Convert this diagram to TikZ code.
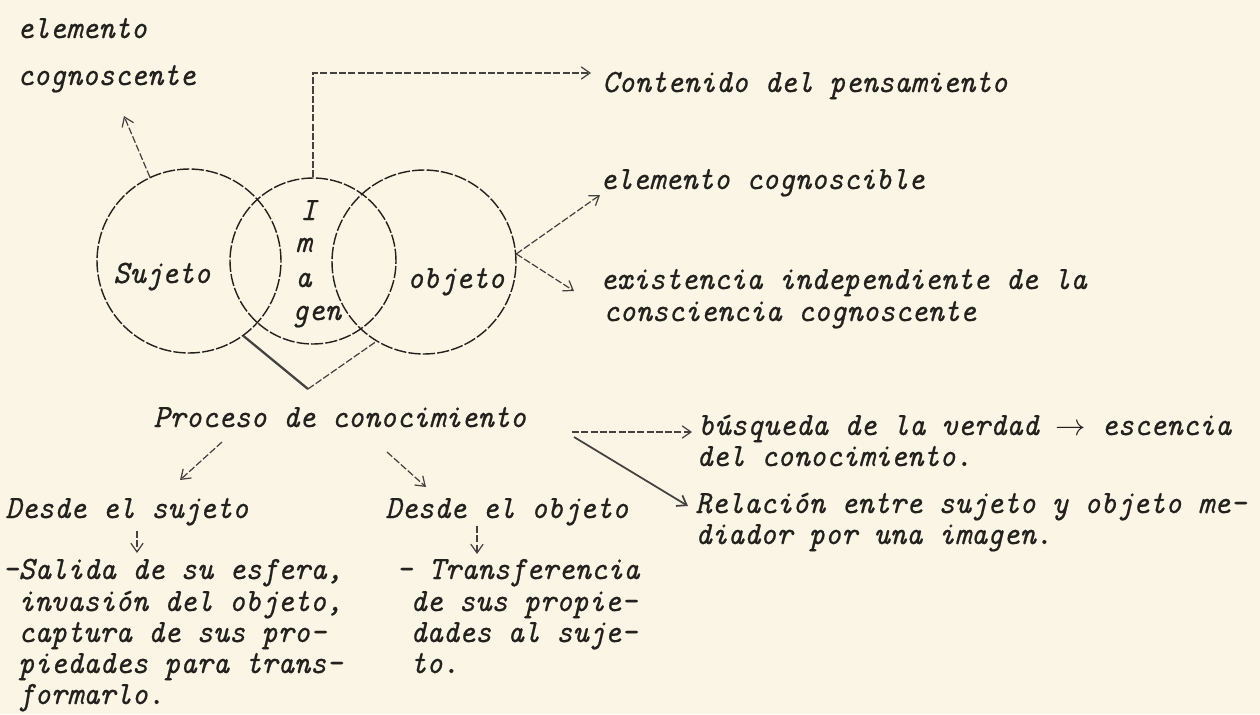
\documentclass[tikz,border=0pt]{standalone}
\usepackage{fontspec}
\newfontfamily\twfont{lmmono10-italic.otf}[FakeStretch=0.95, FakeBold=0.6]
\usetikzlibrary{arrows.meta}
\definecolor{paper}{RGB}{250,245,228}
\definecolor{ink}{RGB}{35,33,30}
\tikzset{
  txt/.style={font=\fontsize{18.5}{18.5}\selectfont\twfont, text=ink, inner sep=0pt, anchor=base west},
  ring/.style={circle, draw=ink, line width=0.8pt, dash pattern=on 7pt off 1.2pt, inner sep=0pt},
  conn/.style={draw=ink!85, line width=0.7pt, dash pattern=on 4pt off 1.3pt},
  arr/.style={conn, -{Straight Barb[length=5pt,width=7pt]}},
  solidarr/.style={draw=ink!85, line width=1pt, -{Straight Barb[length=5pt,width=7pt]}}
}
\begin{document}
\begin{tikzpicture}[x=0.02cm,y=-0.02cm]
\fill[paper] (0,0) rectangle (1260,714);
\useasboundingbox (0,0) rectangle (1260,714);

% circles
\node[ring, minimum size=3.68cm] (S) at (189,261) {};
\node[ring, minimum size=3.32cm] (Im) at (313,261) {};
\node[ring, minimum size=3.68cm] (O) at (424,262) {};

% texts
\node[txt] (e1) at (17,38) {elemento};
\node[txt] (e2) at (17,85) {cognoscente};
\node[txt] (cont) at (602,92) {Contenido del pensamiento};
\node[txt] (ecb) at (600,189) {elemento cognoscible};
\node[txt] (ex1) at (600,289) {existencia independiente de la};
\node[txt] (ex2) at (603,321) {consciencia cognoscente};
\node[txt] (suj) at (113,283) {Sujeto};
\node[txt] (obj) at (407,288) {objeto};
\node[txt] (iI) at (300,220) {I};
\node[txt] (im) at (295,252) {m};
\node[txt] (ia) at (295,287) {a};
\node[txt] (ig) at (292,320) {gen};
\node[txt] (proc) at (153,427) {Proceso de conocimiento};
\node[txt] (ds) at (5,518) {Desde el sujeto};
\node[txt] (do) at (385,518) {Desde el objeto};
\node[txt] (s1) at (2,579) {-Salida de su esfera,};
\node[txt] (s2) at (18,611) {invasión del objeto,};
\node[txt] (s3) at (18,642) {captura de sus pro-};
\node[txt] (s4) at (18,673) {piedades para trans-};
\node[txt] (s5) at (18,704) {formarlo.};
\node[txt] (t1) at (396,579) {- Transferencia};
\node[txt] (t2) at (410,611) {de sus propie-};
\node[txt] (t3) at (410,642) {dades al suje-};
\node[txt] (t4) at (410,673) {to.};
\node[txt] (b1) at (698,435) {búsqueda de la verdad $\rightarrow$ escencia};
\node[txt] (b2) at (696,466) {del conocimiento.};
\node[txt] (r1) at (695,513) {Relación entre sujeto y objeto me-};
\node[txt] (r2) at (695,544) {diador por una imagen.};

% connector end points
\coordinate (aCog) at (124,116);
\coordinate (aCont) at (591,73);
\coordinate (aEcb) at (600,195);
\coordinate (aEx) at (574,291);
\coordinate (vB) at (308,389);
\coordinate (pL) at (222,442);
\coordinate (aDs) at (180,480);
\coordinate (pR) at (387,452);
\coordinate (aDo) at (426,487);
\coordinate (dsA) at (137,531);
\coordinate (dsB) at (137,553);
\coordinate (doA) at (477,526);
\coordinate (doB) at (477,554);
\coordinate (hA) at (572,432);
\coordinate (hB) at (692,432);
\coordinate (dA) at (574,437);
\coordinate (dB) at (688,506);

% connectors
\draw[arr] (S.115) -- (aCog);
\draw[arr] (Im.north) |- (aCont);
\draw[arr] (O.5) -- (aEcb);
\draw[arr] (O.5) -- (aEx);
\draw[draw=ink!85, line width=1.3pt] (S.-54) -- (vB);
\draw[conn] (vB) -- (O.-121);
\draw[arr] (pL) -- (aDs);
\draw[arr] (pR) -- (aDo);
\draw[arr] (dsA) -- (dsB);
\draw[arr] (doA) -- (doB);
\draw[arr] (hA) -- (hB);
\draw[solidarr] (dA) -- (dB);
\end{tikzpicture}
\end{document}
